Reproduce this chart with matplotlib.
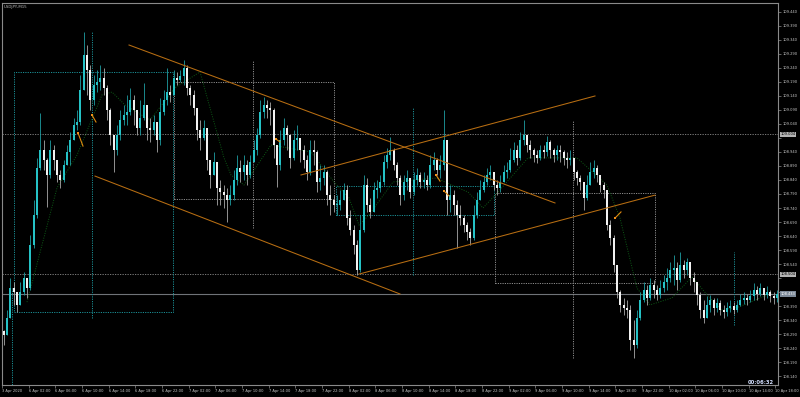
import numpy as np
import matplotlib
matplotlib.use("Agg")
import matplotlib.pyplot as plt
from matplotlib import patches

first_open = 108.300
closes = [
    108.287, 108.347, 108.454, 108.440, 108.394, 108.440, 108.490, 108.454, 108.608, 108.715,
    108.883, 108.947, 108.912, 108.858, 108.947, 108.912, 108.858, 108.840, 108.894, 108.940,
    108.983, 109.036, 109.047, 109.162, 109.287, 109.233, 109.126, 109.179, 109.190, 109.204,
    109.169, 109.090, 109.001, 108.947, 109.001, 109.054, 109.072, 109.083, 109.126, 109.090,
    109.026, 109.061, 109.108, 109.026, 109.018, 109.047, 108.983, 109.083, 109.126, 109.154,
    109.144, 109.204, 109.197, 109.212, 109.240, 109.169, 109.144, 109.097, 109.018, 108.990,
    109.026, 108.912, 108.858, 108.904, 108.812, 108.797, 108.786, 108.769, 108.786, 108.840,
    108.883, 108.869, 108.894, 108.858, 108.904, 108.947, 109.001, 109.083, 109.108, 109.097,
    109.090, 108.965, 108.894, 108.983, 109.026, 109.001, 108.919, 108.983, 108.990, 108.947,
    108.912, 108.869, 108.947, 108.940, 108.833, 108.847, 108.869, 108.786, 108.769, 108.751,
    108.751, 108.769, 108.804, 108.704, 108.662, 108.608, 108.519, 108.662, 108.822, 108.751,
    108.726, 108.804, 108.812, 108.833, 108.904, 108.929, 108.947, 108.894, 108.847, 108.786,
    108.833, 108.847, 108.797, 108.840, 108.858, 108.833, 108.840, 108.822, 108.894, 108.912,
    108.876, 108.894, 108.983, 108.769, 108.786, 108.751, 108.715, 108.704, 108.679, 108.654,
    108.633, 108.715, 108.769, 108.804, 108.833, 108.858, 108.869, 108.822, 108.812, 108.833,
    108.869, 108.876, 108.912, 108.947, 108.919, 108.983, 109.001, 108.965, 108.947, 108.929,
    108.919, 108.947, 108.940, 108.976, 108.947, 108.929, 108.947, 108.940, 108.919, 108.912,
    108.919, 108.869, 108.847, 108.833, 108.776, 108.822, 108.869, 108.883, 108.858, 108.822,
    108.804, 108.679, 108.633, 108.537, 108.440, 108.394, 108.383, 108.376, 108.269, 108.251,
    108.347, 108.412, 108.447, 108.419, 108.465, 108.447, 108.429, 108.454, 108.476, 108.490,
    108.519, 108.526, 108.483, 108.537, 108.519, 108.547, 108.490, 108.476, 108.429, 108.376,
    108.347, 108.394, 108.412, 108.383, 108.401, 108.376, 108.369, 108.383, 108.390, 108.376,
    108.394, 108.412, 108.419, 108.412, 108.426, 108.447, 108.433, 108.454, 108.429, 108.440,
    108.426, 108.419, 108.433,
]
highs = [
    108.304, 108.376, 108.490, 108.476, 108.429, 108.476, 108.512, 108.490, 108.644, 108.769,
    108.919, 109.079, 108.983, 108.919, 108.983, 108.965, 108.912, 108.876, 108.912, 108.965,
    109.011, 109.061, 109.090, 109.215, 109.369, 109.322, 109.251, 109.215, 109.233, 109.251,
    109.240, 109.179, 109.097, 109.001, 109.036, 109.090, 109.108, 109.144, 109.169, 109.144,
    109.090, 109.126, 109.187, 109.090, 109.061, 109.072, 109.047, 109.133, 109.162, 109.240,
    109.179, 109.233, 109.226, 109.233, 109.269, 109.251, 109.179, 109.162, 109.090, 109.054,
    109.054, 109.018, 108.912, 108.940, 108.894, 108.840, 108.822, 108.812, 108.822, 108.876,
    108.929, 108.912, 108.929, 108.912, 108.929, 108.983, 109.026, 109.126, 109.137, 109.126,
    109.119, 109.097, 108.965, 109.018, 109.061, 109.036, 108.954, 109.018, 109.036, 108.983,
    108.965, 108.929, 108.983, 108.983, 108.947, 108.894, 108.894, 108.876, 108.822, 108.786,
    108.786, 108.804, 108.829, 108.822, 108.733, 108.679, 108.626, 108.715, 108.858, 108.847,
    108.776, 108.833, 108.840, 108.858, 108.929, 108.954, 108.994, 108.954, 108.904, 108.858,
    108.858, 108.876, 108.847, 108.869, 108.883, 108.869, 108.869, 108.858, 108.929, 108.940,
    108.919, 108.929, 109.090, 108.983, 108.822, 108.804, 108.769, 108.751, 108.715, 108.690,
    108.669, 108.751, 108.797, 108.840, 108.858, 108.883, 108.894, 108.869, 108.840, 108.858,
    108.894, 108.904, 108.954, 108.976, 108.965, 109.011, 109.054, 109.001, 108.983, 108.954,
    108.947, 108.965, 108.965, 108.997, 108.983, 108.954, 108.965, 108.965, 108.947, 108.940,
    108.947, 108.912, 108.876, 108.858, 108.822, 108.858, 108.904, 108.912, 108.894, 108.858,
    108.833, 108.804, 108.697, 108.644, 108.526, 108.447, 108.419, 108.412, 108.394, 108.340,
    108.376, 108.440, 108.476, 108.465, 108.490, 108.483, 108.465, 108.483, 108.501, 108.526,
    108.547, 108.572, 108.547, 108.583, 108.554, 108.562, 108.526, 108.512, 108.465, 108.440,
    108.412, 108.426, 108.429, 108.419, 108.419, 108.412, 108.394, 108.404, 108.412, 108.404,
    108.412, 108.433, 108.440, 108.433, 108.447, 108.472, 108.462, 108.472, 108.454, 108.462,
    108.447, 108.440, 108.447,
]
lows = [
    108.251, 108.312, 108.412, 108.394, 108.369, 108.394, 108.429, 108.419, 108.447, 108.597,
    108.704, 108.876, 108.876, 108.744, 108.847, 108.876, 108.833, 108.812, 108.833, 108.894,
    108.894, 108.983, 109.018, 109.036, 109.162, 109.144, 109.090, 109.108, 109.154, 109.162,
    109.144, 109.054, 108.965, 108.869, 108.929, 108.983, 109.036, 109.036, 109.072, 109.036,
    109.001, 109.001, 109.054, 108.983, 108.976, 109.001, 108.940, 108.965, 109.072, 109.108,
    109.119, 109.144, 109.179, 109.190, 109.179, 109.144, 109.108, 109.072, 108.983, 108.947,
    108.983, 108.876, 108.812, 108.858, 108.751, 108.751, 108.740, 108.690, 108.751, 108.769,
    108.822, 108.833, 108.840, 108.822, 108.847, 108.904, 108.929, 108.990, 109.061, 109.061,
    109.036, 108.919, 108.815, 108.876, 108.965, 108.947, 108.883, 108.912, 108.947, 108.904,
    108.883, 108.840, 108.858, 108.894, 108.797, 108.804, 108.822, 108.751, 108.715, 108.726,
    108.715, 108.733, 108.769, 108.679, 108.644, 108.576, 108.501, 108.512, 108.654, 108.726,
    108.704, 108.751, 108.776, 108.797, 108.822, 108.883, 108.912, 108.876, 108.822, 108.751,
    108.769, 108.804, 108.776, 108.786, 108.822, 108.812, 108.812, 108.804, 108.812, 108.876,
    108.858, 108.847, 108.876, 108.715, 108.726, 108.715, 108.597, 108.679, 108.654, 108.626,
    108.608, 108.626, 108.704, 108.769, 108.797, 108.822, 108.840, 108.804, 108.786, 108.797,
    108.840, 108.847, 108.869, 108.904, 108.894, 108.912, 108.965, 108.940, 108.919, 108.904,
    108.901, 108.912, 108.919, 108.926, 108.919, 108.904, 108.912, 108.904, 108.894, 108.883,
    108.894, 108.840, 108.822, 108.804, 108.733, 108.769, 108.833, 108.847, 108.833, 108.797,
    108.776, 108.662, 108.608, 108.512, 108.419, 108.369, 108.358, 108.347, 108.233, 108.204,
    108.240, 108.340, 108.404, 108.394, 108.412, 108.419, 108.412, 108.419, 108.440, 108.447,
    108.476, 108.465, 108.447, 108.476, 108.490, 108.501, 108.465, 108.440, 108.394, 108.347,
    108.329, 108.358, 108.369, 108.358, 108.369, 108.358, 108.347, 108.355, 108.369, 108.362,
    108.369, 108.390, 108.397, 108.394, 108.404, 108.412, 108.412, 108.426, 108.412, 108.419,
    108.404, 108.397, 108.404,
]

time_labels = ["3 Apr 2020", "6 Apr 02:00", "6 Apr 06:00", "6 Apr 10:00", "6 Apr 14:00",
               "6 Apr 18:00", "6 Apr 22:00", "7 Apr 02:00", "7 Apr 06:00", "7 Apr 10:00",
               "7 Apr 14:00", "7 Apr 18:00", "7 Apr 22:00", "8 Apr 02:00", "8 Apr 06:00",
               "8 Apr 10:00", "8 Apr 14:00", "8 Apr 18:00", "8 Apr 22:00", "9 Apr 02:00",
               "9 Apr 06:00", "9 Apr 10:00", "9 Apr 14:00", "9 Apr 18:00", "9 Apr 22:00",
               "10 Apr 02:00", "10 Apr 06:00", "10 Apr 10:00", "10 Apr 14:00", "10 Apr 18:00"]

# drawn objects: (bar, price) pairs
trend_lines = [((37.6, 109.322), (165.4, 108.758)),
               ((27.4, 108.854), (118.9, 108.433)),
               ((89.2, 108.858), (177.4, 109.140)),
               ((106.6, 108.504), (195.4, 108.786))]
teal_boxes = [(3.1, 50.8, 108.369, 109.226), (99.7, 147.1, 108.715, 108.818)]
grey_boxes = [(51.1, 99.1, 108.772, 109.190), (147.4, 195.4, 108.472, 108.793)]
teal_vlines = [(26.5, 108.347, 109.369), (2.5, 108.10, 108.454),
               (122.8, 108.501, 109.097), (219.1, 108.322, 108.583)]
grey_vlines = [(74.8, 108.669, 109.269), (170.8, 108.204, 109.054)]
level_lines = [109.004, 108.504]
bid = 108.433
arrows = [((22.3, 109.008), (23.8, 108.961)), ((26.5, 109.072), (27.7, 109.047)),
          ((81.7, 108.986), (82.9, 108.976)), ((129.7, 108.858), (130.9, 108.836)),
          ((132.1, 108.801), (133.6, 108.783)), ((183.4, 108.704), (185.2, 108.726))]
zz_bar = [7.0, 16.0, 22.0, 29.5, 32.5, 36.4, 43.9, 51.4, 58.9, 66.1, 68.2, 72.1, 80.2, 92.2,
          99.1, 103.6, 106.6, 109.6, 116.8, 129.7, 139.3, 143.8, 148.3, 157.3, 172.0, 181.0,
          184.9, 190.0, 193.9, 200.5, 206.5, 211.6, 215.5, 220.6, 230.5]
zz_price = [108.404, 108.812, 108.929, 109.144, 109.154, 109.108, 109.054, 109.169, 109.226,
            108.919, 108.858, 108.822, 108.965, 108.940, 108.833, 108.776, 108.679, 108.715,
            108.833, 108.847, 108.797, 108.740, 108.797, 108.919, 108.919, 108.822, 108.704,
            108.454, 108.394, 108.419, 108.494, 108.422, 108.376, 108.387, 108.436]

c = np.array(closes)
o = np.r_[first_open, c[:-1]]
h = np.maximum(np.array(highs), np.maximum(o, c))
l = np.minimum(np.array(lows), np.minimum(o, c))
x = np.arange(len(c))
up = c >= o

fig = plt.figure(figsize=(8, 3.97), dpi=100, facecolor="black")
ax = fig.add_axes([2 / 800, 12 / 397, 776 / 800, 382 / 397])
ax.set_facecolor("black")
ax.set_xlim(-0.5, 232.3)
ax.set_ylim(108.108, 109.472)

teal = "#1b8f95"
grey = "#8c8c8c"
orange = "#b86e12"

# horizontal levels
for lv in level_lines:
    ax.axhline(lv, color=grey, lw=0.6, ls=(0, (1.5, 1.5)), zorder=1)
ax.axhline(bid, color="#6f7378", lw=0.8, zorder=1)

for x0, x1, y0, y1 in teal_boxes:
    ax.add_patch(patches.Rectangle((x0, y0), x1 - x0, y1 - y0, fill=False,
                                   ec=teal, lw=0.7, ls=(0, (1.2, 1.2)), zorder=1))
for x0, x1, y0, y1 in grey_boxes:
    ax.add_patch(patches.Rectangle((x0, y0), x1 - x0, y1 - y0, fill=False,
                                   ec=grey, lw=0.7, ls=(0, (1.2, 1.2)), zorder=1))
for xv, y0, y1 in teal_vlines:
    ax.vlines(xv, y0, y1, colors=teal, lw=0.7, ls=(0, (1.2, 1.2)), zorder=1)
for xv, y0, y1 in grey_vlines:
    ax.vlines(xv, y0, y1, colors=grey, lw=0.7, ls=(0, (1.2, 1.2)), zorder=1)

ax.plot(zz_bar, zz_price, color="#0d5a16", lw=0.7, ls=(0, (1, 1.5)), zorder=2)

# candles
wick_col = np.where(up, "#1f9ea3", "#a9a9a9")
body_col = np.where(up, "#25c2c6", "#f2f2f2")
ax.vlines(x, l, h, colors=wick_col, lw=0.6, zorder=3)
body_h = np.maximum(np.abs(c - o), 0.003)
ax.bar(x, body_h, bottom=np.minimum(o, c), width=0.62, color=body_col, lw=0, zorder=4)

for (xa, ya), (xb, yb) in trend_lines:
    ax.plot([xa, xb], [ya, yb], color=orange, lw=0.75, zorder=5)
for (xa, ya), (xb, yb) in arrows:
    ax.plot([xa, xb], [ya, yb], color="#e08a10", lw=0.8, zorder=6)
    ax.plot(xa, ya, "s", color="#f09018", ms=1.6, mew=0, zorder=6)

# axes styling
for s in ax.spines.values():
    s.set_color("#8a8a8a")
    s.set_linewidth(0.8)
ax.yaxis.tick_right()
yt = np.round(np.arange(109.440, 108.13, -0.05), 3)
boxed = [109.004, 108.504, bid]
ax.set_yticks(yt)
# labels hidden under the price boxes on the scale
ax.set_yticklabels(["" if min(abs(v - b) for b in boxed) < 0.02 else f"{v:.3f}" for v in yt])
ax.set_xticks(np.arange(len(time_labels)) * 8 - 0.5)
ax.set_xticklabels(time_labels, ha="left")
ax.tick_params(axis="both", colors="#8a8a8a", labelcolor="#c8c8c8", labelsize=2.6,
               length=2, width=0.5, pad=1)

for lv, fc, tc in [(109.004, "#b4b4b4", "black"), (108.504, "#b4b4b4", "black"),
                   (bid, "#7d8a99", "white")]:
    ax.text(1.003, lv, f"{lv:.3f}", transform=ax.get_yaxis_transform(), fontsize=2.6,
            color=tc, va="center", ha="left",
            bbox=dict(boxstyle="square,pad=0.15", fc=fc, ec="none"))

fig.text(4 / 800, 1 - 8 / 397, "USDJPY,M15", fontsize=2.8, color="#c0c0c0", va="baseline")
fig.text(774 / 800, 1 - 384 / 397, "00:06:32", fontsize=3.8, color="#d4e0ff",
         fontweight="bold", ha="right", va="baseline")

fig.savefig("out.png", dpi=100, facecolor="black")
